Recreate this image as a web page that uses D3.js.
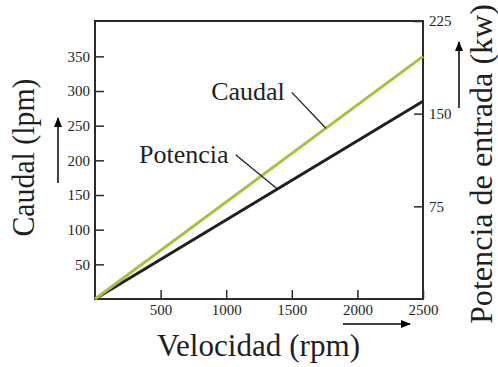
<!DOCTYPE html>
<html>
<head>
<meta charset="utf-8">
<script src="https://cdn.jsdelivr.net/npm/d3@7"></script>
<style>
  body { margin: 0; background: #fff; }
  svg text { font-family: 'Liberation Serif', 'Times New Roman', serif; fill: #231f20; }
</style>
</head>
<body>
<svg width="498" height="367"></svg>
<script>
// datos
var rpm = [0, 2500]
var caudal = [0, 350]      // lpm
var potencia = [0, 160]    // kW

var rpmTicks = [500, 1000, 1500, 2000, 2500]
var caudalTicks = [50, 100, 150, 200, 250, 300, 350]
var potenciaTicks = [75, 150, 225]

// etiquetas: punto de inicio de la guía (rpm, lpm) y rpm sobre la curva
var labelNames = ['Caudal', 'Potencia']
var labelStart = [[1500, 298], [1072, 208]]
var labelTarget = [1760, 1390]

var svg = d3.select('svg'),
    width = +svg.attr('width'),
    height = +svg.attr('height')

var margin = { top: 21, right: 75, bottom: 68, left: 95 }
var w = width - margin.left - margin.right,
    h = height - margin.top - margin.bottom

var g = svg.append('g').attr('transform', 'translate(' + margin.left + ',' + margin.top + ')')

var x = d3.scaleLinear().domain([0, 2500]).range([0, w])
var yL = d3.scaleLinear().domain([0, 401]).range([h, 0])
var yR = d3.scaleLinear().domain([0, 225]).range([h, 0])

var axisColor = '#2b2b2b'

function styleAxis(sel) {
  sel.select('.domain').remove()
  sel.selectAll('line').attr('stroke', axisColor).attr('stroke-width', 1.5)
  sel.selectAll('text').style('font-size', '15px').attr('fill', '#333')
}

g.append('g')
    .call(d3.axisLeft(yL).tickValues(caudalTicks).tickFormat(d3.format('d')).tickSize(-9).tickPadding(5))
    .call(styleAxis)

g.append('g')
    .attr('transform', 'translate(' + w + ',0)')
    .call(d3.axisRight(yR).tickValues(potenciaTicks).tickFormat(d3.format('d')).tickSize(-9).tickPadding(6))
    .call(styleAxis)

g.append('g')
    .attr('transform', 'translate(0,' + h + ')')
    .call(d3.axisBottom(x).tickValues(rpmTicks).tickFormat(d3.format('d')).tickSize(-9).tickPadding(5))
    .call(styleAxis)

// marco
g.append('rect')
    .attr('width', w)
    .attr('height', h)
    .attr('fill', 'none')
    .attr('stroke', axisColor)
    .attr('stroke-width', 2)

// curvas
var lineC = d3.line().x(function(d, i) { return x(rpm[i]) }).y(function(d) { return yL(d) })
var lineP = d3.line().x(function(d, i) { return x(rpm[i]) }).y(function(d) { return yR(d) })

g.append('path')
    .attr('d', lineP(potencia))
    .attr('fill', 'none')
    .attr('stroke', '#231f20')
    .attr('stroke-width', 3)

g.append('path')
    .attr('d', lineC(caudal))
    .attr('fill', 'none')
    .attr('stroke', '#a5c43a')
    .attr('stroke-width', 3)

// etiquetas con guía
var interpC = d3.scaleLinear().domain(rpm).range(caudal)
var interpP = d3.scaleLinear().domain(rpm).range(potencia)

labelNames.forEach(function(name, i) {
  var sx = x(labelStart[i][0]), sy = yL(labelStart[i][1])
  var tx = x(labelTarget[i])
  var ty = i == 0 ? yL(interpC(labelTarget[i])) : yR(interpP(labelTarget[i]))
  g.append('line')
      .attr('x1', sx).attr('y1', sy)
      .attr('x2', tx).attr('y2', ty)
      .attr('stroke', '#231f20')
      .attr('stroke-width', 1.3)
  g.append('text')
      .attr('x', sx - 7)
      .attr('y', sy + 8)
      .attr('text-anchor', 'end')
      .style('font-size', '26px')
      .text(name)
})

// títulos de ejes
svg.append('text')
    .attr('transform', 'translate(34,157.5) rotate(-90)')
    .attr('text-anchor', 'middle')
    .attr('textLength', 158)
    .attr('lengthAdjust', 'spacingAndGlyphs')
    .style('font-size', '32px')
    .text('Caudal (lpm)')

svg.append('text')
    .attr('transform', 'translate(492,164) rotate(-90)')
    .attr('text-anchor', 'middle')
    .attr('textLength', 320)
    .attr('lengthAdjust', 'spacingAndGlyphs')
    .style('font-size', '32.5px')
    .text('Potencia de entrada (kw)')

svg.append('text')
    .attr('x', 258.5)
    .attr('y', 356)
    .attr('text-anchor', 'middle')
    .attr('textLength', 203)
    .attr('lengthAdjust', 'spacingAndGlyphs')
    .style('font-size', '31px')
    .text('Velocidad (rpm)')

// flechas
svg.append('defs').append('marker')
    .attr('id', 'arrowhead')
    .attr('viewBox', '0 0 10 8')
    .attr('refX', 9)
    .attr('refY', 4)
    .attr('markerWidth', 10)
    .attr('markerHeight', 8)
    .attr('markerUnits', 'userSpaceOnUse')
    .attr('orient', 'auto')
  .append('path')
    .attr('d', 'M0,0 L10,4 L0,8 Z')
    .attr('fill', '#000')

var arrows = [[58, 183, 58, 118], [459, 108, 459, 42], [343, 324, 410, 324]]
svg.selectAll('.arrow')
    .data(arrows)
  .enter().append('line')
    .attr('class', 'arrow')
    .attr('x1', function(d) { return d[0] })
    .attr('y1', function(d) { return d[1] })
    .attr('x2', function(d) { return d[2] })
    .attr('y2', function(d) { return d[3] })
    .attr('stroke', '#000')
    .attr('stroke-width', 1.5)
    .attr('marker-end', 'url(#arrowhead)')
</script>
</body>
</html>
